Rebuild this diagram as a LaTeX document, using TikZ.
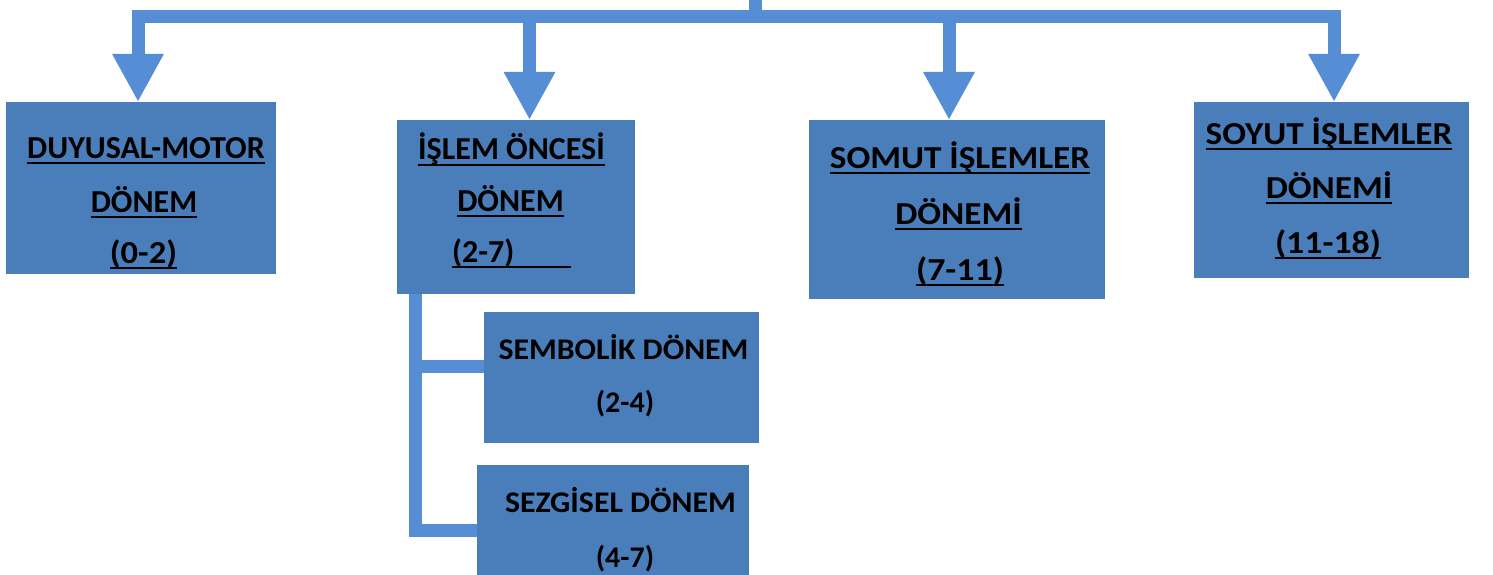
\documentclass[tikz,border=0pt]{standalone}
\usepackage{fontspec}
\setmainfont{Carlito}
\usetikzlibrary{arrows.meta}
\definecolor{boxblue}{RGB}{74,126,187}
\definecolor{linkblue}{RGB}{85,142,213}
\newcommand\uln[1]{\setbox0\hbox{#1}\rlap{\rule[-6pt]{\wd0}{2pt}}\box0}
\newcommand\sx[2]{\scalebox{#1}[1]{#2}}
\begin{document}
\begin{tikzpicture}[x=1pt,y=-1pt,
  box/.style={draw=none,fill=boxblue,inner sep=0pt,outer sep=0pt},
  conn/.style={draw=linkblue,line width=13pt},
  tip/.style={-{Triangle[width=48pt,length=48pt]}},
  lbl/.style={anchor=base,inner sep=0pt,font=\fontsize{32}{32}\selectfont\bfseries},
  sublbl/.style={anchor=base,inner sep=0pt,font=\fontsize{30}{30}\selectfont\bfseries}]
\clip (0,0) rectangle (1493,575);
\fill[white] (0,0) rectangle (1493,575);
% boxes
\node[box,minimum width=270pt,minimum height=172pt] (b1) at (141,188) {};
\node[box,minimum width=238pt,minimum height=174pt] (b2) at (516,207) {};
\node[box,minimum width=296pt,minimum height=179pt] (b3) at (957,209.5) {};
\node[box,minimum width=275pt,minimum height=176pt] (b4) at (1331.5,190) {};
\node[box,minimum width=275pt,minimum height=131pt] (s1) at (621.5,377.5) {};
\node[box,minimum width=272pt,minimum height=131pt] (s2) at (613,530.5) {};
% connector points
\coordinate (top) at (755,-5);
\coordinate (bus) at (755,16.5);
\coordinate (t1) at ([xshift=132pt]b1.north west);
\coordinate (t2) at ([xshift=132.5pt]b2.north west);
\coordinate (t3) at ([xshift=140pt]b3.north west);
\coordinate (t4) at ([xshift=140pt]b4.north west);
\coordinate (c0) at ([xshift=18.5pt]b2.south west);
\coordinate (e1) at ([yshift=11pt]s1.west);
% connectors
\draw[conn] (top) -- (bus);
\draw[conn,{Triangle[width=48pt,length=48pt]}-{Triangle[width=48pt,length=48pt]}] (t1) |- (bus) -| (t4);
\draw[conn,tip] (t2 |- bus) -- (t2);
\draw[conn,tip] (t3 |- bus) -- (t3);
\draw[conn] (c0) |- (s2.west);
\draw[conn] (c0 |- e1) -- (e1);
% texts
\node[lbl] (l1a) at (146,158) {\uln{DUYUSAL-MOTOR}};
\node[lbl] (l1b) at (144,212) {\uln{DÖNEM}};
\node[lbl] (l1c) at (143.5,263) {\sx{1.08}{\uln{(0-2)}}};
\node[lbl] (l2a) at (511.5,160) {\uln{İŞLEM ÖNCESİ}};
\node[lbl] (l2b) at (510.5,211) {\uln{DÖNEM}};
\node[lbl,anchor=base west] (l2c) at (452,262) {\uln{(2-7)\kern57pt}};
\node[lbl] (l3a) at (960,168) {\sx{1.1}{\uln{SOMUT İŞLEMLER}}};
\node[lbl] (l3b) at (958.5,224) {\sx{1.1}{\uln{DÖNEMİ}}};
\node[lbl] (l3c) at (960,280) {\sx{1.12}{\uln{(7-11)}}};
\node[lbl] (l4a) at (1329,144) {\sx{1.1}{\uln{SOYUT İŞLEMLER}}};
\node[lbl] (l4b) at (1329,198) {\sx{1.1}{\uln{DÖNEMİ}}};
\node[lbl] (l4c) at (1328,253) {\sx{1.12}{\uln{(11-18)}}};
\node[sublbl] (m1a) at (623.5,359) {\sx{1.06}{SEMBOLİK DÖNEM}};
\node[sublbl] (m1b) at (625,412) {(2-4)};
\node[sublbl] (m2a) at (620.5,512) {\sx{1.06}{SEZGİSEL DÖNEM}};
\node[sublbl] (m2b) at (625,567) {(4-7)};
\end{tikzpicture}
\end{document}
